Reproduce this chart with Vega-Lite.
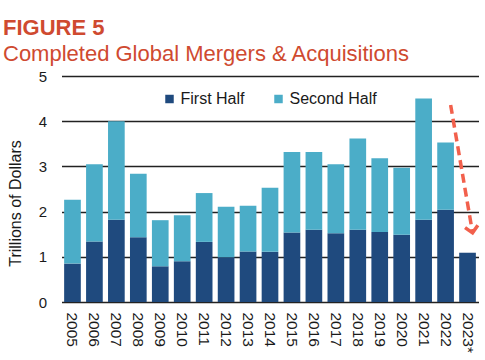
{
  "$schema": "https://vega.github.io/schema/vega-lite/v6.json",
  "width": 417,
  "height": 226,
  "autosize": "none",
  "padding": {"left": 61.5, "top": 76, "right": 6.5, "bottom": 58},
  "background": "white",
  "config": {
    "font": "Liberation Sans",
    "view": {"stroke": null}
  },
  "title": {
    "text": "FIGURE 5",
    "subtitle": "Completed Global Mergers & Acquisitions",
    "anchor": "start",
    "frame": "group",
    "dx": -58.5,
    "offset": 3,
    "font": "Liberation Sans",
    "fontSize": 22,
    "fontWeight": "bold",
    "color": "#cf4a30",
    "subtitleFont": "Liberation Sans",
    "subtitleFontSize": 22,
    "subtitleFontWeight": "normal",
    "subtitleColor": "#cf4a30",
    "subtitlePadding": 4
  },
  "datasets": {
    "bars": [
      {"year": "2005", "half": "First Half", "value": 0.85},
      {"year": "2005", "half": "Second Half", "value": 1.41},
      {"year": "2006", "half": "First Half", "value": 1.34},
      {"year": "2006", "half": "Second Half", "value": 1.71},
      {"year": "2007", "half": "First Half", "value": 1.82},
      {"year": "2007", "half": "Second Half", "value": 2.18},
      {"year": "2008", "half": "First Half", "value": 1.43},
      {"year": "2008", "half": "Second Half", "value": 1.41},
      {"year": "2009", "half": "First Half", "value": 0.79},
      {"year": "2009", "half": "Second Half", "value": 1.02},
      {"year": "2010", "half": "First Half", "value": 0.90},
      {"year": "2010", "half": "Second Half", "value": 1.02},
      {"year": "2011", "half": "First Half", "value": 1.33},
      {"year": "2011", "half": "Second Half", "value": 1.08},
      {"year": "2012", "half": "First Half", "value": 0.99},
      {"year": "2012", "half": "Second Half", "value": 1.12},
      {"year": "2013", "half": "First Half", "value": 1.12},
      {"year": "2013", "half": "Second Half", "value": 1.01},
      {"year": "2014", "half": "First Half", "value": 1.11},
      {"year": "2014", "half": "Second Half", "value": 1.42},
      {"year": "2015", "half": "First Half", "value": 1.54},
      {"year": "2015", "half": "Second Half", "value": 1.78},
      {"year": "2016", "half": "First Half", "value": 1.60},
      {"year": "2016", "half": "Second Half", "value": 1.72},
      {"year": "2017", "half": "First Half", "value": 1.52},
      {"year": "2017", "half": "Second Half", "value": 1.53},
      {"year": "2018", "half": "First Half", "value": 1.60},
      {"year": "2018", "half": "Second Half", "value": 2.02},
      {"year": "2019", "half": "First Half", "value": 1.55},
      {"year": "2019", "half": "Second Half", "value": 1.63},
      {"year": "2020", "half": "First Half", "value": 1.49},
      {"year": "2020", "half": "Second Half", "value": 1.48},
      {"year": "2021", "half": "First Half", "value": 1.82},
      {"year": "2021", "half": "Second Half", "value": 2.68},
      {"year": "2022", "half": "First Half", "value": 2.04},
      {"year": "2022", "half": "Second Half", "value": 1.49},
      {"year": "2023*", "half": "First Half", "value": 1.09}
    ],
    "arrow": [
      {"x1": 17.73, "y1": 4.36, "x2": 18.73, "y2": 1.53}
    ]
  },
  "layer": [
    {
      "data": {"name": "bars"},
      "mark": {"type": "bar"},
      "encoding": {
        "x": {
          "field": "year",
          "type": "nominal",
          "scale": {"paddingInner": 0.24, "paddingOuter": 0.12},
          "axis": {
            "title": null,
            "labelAngle": 90,
            "labelFontSize": 15.5,
            "labelColor": "#1a1a1a",
            "labelPadding": 10,
            "ticks": false,
            "domain": false,
            "grid": false
          }
        },
        "y": {
          "field": "value",
          "type": "quantitative",
          "stack": "zero",
          "scale": {"domain": [0, 5], "nice": false},
          "axis": {
            "title": "Trillions of Dollars",
            "titleFontSize": 16,
            "titleFontWeight": "normal",
            "titleColor": "#1a1a1a",
            "titleX": -38.5,
            "titleY": 127,
            "values": [0, 1, 2, 3, 4, 5],
            "labelFontSize": 15,
            "labelColor": "#1a1a1a",
            "labelPadding": 15,
            "ticks": false,
            "domain": false,
            "grid": true,
            "gridColor": "#222222",
            "gridWidth": 1.3
          }
        },
        "color": {
          "field": "half",
          "type": "nominal",
          "scale": {"domain": ["First Half", "Second Half"], "range": ["#1f4a7e", "#4badc8"]},
          "legend": {
            "title": null,
            "orient": "none",
            "direction": "horizontal",
            "legendX": 100,
            "legendY": 15,
            "symbolType": "square",
            "symbolSize": 72,
            "symbolStrokeWidth": 0,
            "labelFontSize": 16,
            "labelColor": "#1a1a1a",
            "labelOffset": 3,
            "columnPadding": 26,
            "padding": 0
          }
        },
        "order": {"field": "half", "sort": "ascending"}
      }
    },
    {
      "data": {"name": "arrow"},
      "mark": {"type": "rule", "color": "#f2604c", "strokeWidth": 3.5, "strokeDash": [9, 5]},
      "encoding": {
        "x": {"field": "x1", "type": "quantitative", "scale": {"domain": [0, 19], "nice": false, "zero": false}, "axis": null},
        "x2": {"field": "x2"},
        "y": {"field": "y1", "type": "quantitative"},
        "y2": {"field": "y2"}
      }
    },
    {
      "data": {"name": "arrow"},
      "mark": {"type": "point", "shape": "M-1,-1L0,0L1,-1", "filled": false, "size": 169, "color": "#f2604c", "strokeWidth": 3.5, "angle": 350, "opacity": 1},
      "encoding": {
        "x": {"field": "x2", "type": "quantitative", "scale": {"domain": [0, 19], "nice": false, "zero": false}, "axis": null},
        "y": {"field": "y2", "type": "quantitative"}
      }
    }
  ],
  "resolve": {"scale": {"x": "independent"}, "axis": {"x": "independent"}}
}
